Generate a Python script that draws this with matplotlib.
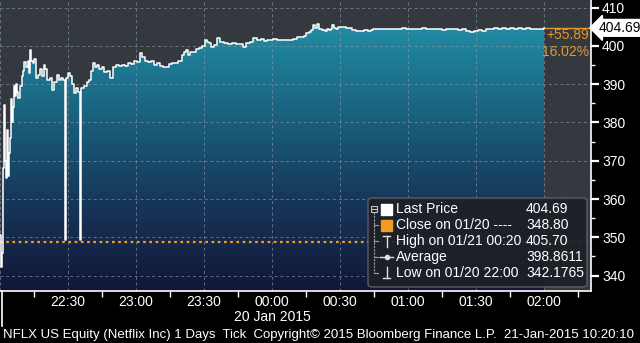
import matplotlib
matplotlib.use("Agg")
import matplotlib.pyplot as plt
import numpy as np
from matplotlib.transforms import blended_transform_factory
from matplotlib.patches import FancyBboxPatch, Rectangle
from matplotlib.lines import Line2D
from matplotlib.colors import LinearSegmentedColormap

plt.rcParams['font.family'] = ['Liberation Sans', 'DejaVu Sans']

# ---- data: minutes after 22:00 (20 Jan 2015) and last price ----
minutes = [0.0, 0.4, 0.9, 1.3, 1.8, 2.2, 2.6, 3.1, 3.5, 4.0, 4.4, 4.9, 5.3, 5.7, 6.2,
           6.6, 7.1, 7.5, 7.9, 8.8, 9.7, 10.2, 10.6, 11.5, 12.4, 12.8, 13.2, 13.7, 14.6,
           15.0, 15.9, 16.8, 17.6, 18.5, 19.4, 19.9, 20.7, 22.1, 22.9, 23.8, 25.1, 26.0,
           26.9, 27.8, 28.7, 29.1, 30.0, 30.9, 31.8, 32.6, 33.5, 34.4, 35.3, 35.7, 37.1,
           38.4, 39.3, 40.1, 41.0, 41.9, 42.8, 43.7, 45.0, 45.9, 47.2, 48.5, 49.9, 51.2,
           52.5, 53.8, 55.1, 56.5, 57.8, 59.1, 60.4, 61.8, 62.6, 64.0, 65.3, 66.6, 67.9,
           69.3, 70.6, 71.9, 73.2, 74.6, 75.9, 77.2, 78.5, 80.3, 81.2, 82.1, 82.9, 83.8,
           85.1, 86.5, 87.8, 89.1, 90.4, 91.3, 92.2, 93.1, 94.4, 95.7, 97.1, 98.8, 100.6,
           102.4, 104.1, 105.9, 107.2, 108.5, 110.3, 111.6, 113.4, 115.1, 116.5, 117.8,
           119.1, 120.4, 122.2, 124.0, 125.7, 127.5, 129.3, 131.0, 132.8, 134.1, 135.0,
           136.3, 137.2, 138.1, 139.0, 140.0, 140.7, 142.1, 143.4, 144.3, 145.1, 146.0,
           146.5, 147.4, 148.2, 149.1, 150.9, 152.6, 154.4, 155.3, 157.1, 158.8, 160.6,
           162.4, 163.7, 164.6, 166.8, 169.0, 171.2, 173.4, 175.6, 177.4, 179.1, 180.9,
           182.6, 184.4, 186.2, 187.9, 189.7, 191.5, 193.2, 195.0, 196.8, 198.5, 200.3,
           202.1, 203.8, 205.6, 207.4, 209.1, 210.9, 212.6, 214.4, 216.2, 217.9, 219.7,
           221.5, 223.2, 225.0, 226.8, 228.5, 230.3, 232.1, 233.8, 235.6, 237.4, 240.0]
prices = [350.5, 342.2, 346.0, 368.0, 384.5, 370.0, 365.5, 378.0, 366.0, 372.0, 376.0,
          386.0, 380.0, 384.0, 389.5, 387.0, 390.0, 388.0, 386.5, 389.5, 392.0, 393.5,
          395.8, 394.5, 396.0, 393.0, 399.0, 396.0, 395.5, 396.5, 391.6, 392.5, 394.0,
          392.0, 395.0, 394.0, 391.0, 391.5, 388.5, 390.5, 392.5, 391.0, 391.5, 391.0,
          349.3, 391.5, 392.8, 392.0, 390.0, 387.6, 389.0, 388.0, 349.3, 389.0, 389.5,
          390.5, 391.0, 393.5, 395.4, 394.5, 395.0, 394.0, 394.5, 393.2, 393.5, 391.5,
          394.4, 395.0, 394.6, 395.0, 394.8, 395.5, 395.2, 396.0, 395.8, 398.0, 397.0,
          396.0, 395.8, 396.0, 395.0, 395.4, 394.8, 394.4, 394.4, 395.3, 395.6, 395.5,
          396.0, 397.5, 398.5, 398.9, 397.5, 398.3, 398.5, 399.2, 399.4, 400.0, 401.5,
          401.0, 400.7, 399.8, 400.2, 402.0, 401.0, 400.7, 400.5, 400.7, 400.4, 400.6,
          399.8, 400.7, 401.0, 402.0, 401.6, 401.8, 401.3, 401.6, 401.4, 401.8, 401.5,
          401.4, 401.6, 401.5, 401.9, 402.2, 402.3, 402.5, 403.3, 403.5, 404.2, 405.4,
          404.6, 405.7, 404.3, 404.1, 403.9, 404.5, 404.2, 404.4, 405.5, 404.6, 404.4,
          404.8, 404.8, 404.7, 404.6, 404.0, 403.9, 403.9, 404.0, 403.8, 404.1, 404.4,
          404.4, 404.3, 404.5, 404.3, 404.4, 404.6, 404.4, 404.5, 404.3, 404.4, 404.6,
          404.4, 404.5, 404.4, 404.3, 404.2, 404.4, 404.3, 404.4, 404.2, 404.3, 403.8,
          403.7, 403.9, 404.0, 403.9, 404.3, 404.4, 404.6, 404.4, 404.7, 404.5, 404.6,
          404.4, 404.6, 404.5, 404.6, 404.4, 404.5, 404.5, 404.69]

x_tick_pos = [30, 60, 90, 120, 150, 180, 210, 240]
x_tick_labels = ["22:30", "23:00", "23:30", "00:00", "00:30", "01:00", "01:30", "02:00"]
y_ticks = [340, 350, 360, 370, 380, 390, 400, 410]

last_price = 404.69
prev_close = 348.80
change_txt = "+55.89"
pct_txt = "16.02%"

legend_rows = [("Last Price", "404.69"),
               ("Close on 01/20 ----", "348.80"),
               ("High on 01/21 00:20", "405.70"),
               ("Average", "398.8611"),
               ("Low on 01/20 22:00", "342.1765")]

W, H = 640, 343
FS = 10
fig = plt.figure(figsize=(W / 100, H / 100), dpi=100, facecolor='black')
PB = 291
PR = 591
ax = fig.add_axes([0, 1 - PB / H, PR / W, PB / H])
ax.set_facecolor('#343940')
ax.set_xlim(0, 260.7)
ax.set_ylim(335.98, 411.96)

x = np.array(minutes)
y = np.array(prices)

# gradient fill beneath the price line
grad = LinearSegmentedColormap.from_list('g', ['#131638', '#173a5c', '#1b6a86', '#2498ae'])
im = ax.imshow(np.linspace(0, 1, 256).reshape(-1, 1), cmap=grad, origin='lower',
               extent=[0, 260.7, 335.98, 411.96], aspect='auto', zorder=1)
poly = ax.fill_between(x, y, 300, step='post', facecolor='none', edgecolor='none', zorder=1)
im.set_clip_path(poly.get_paths()[0], transform=ax.transData)

# grid
for v in y_ticks:
    ax.axhline(v, color='#8a96a6', lw=0.7, ls=(0, (3, 3)), alpha=0.65, zorder=2)
for v in [0] + x_tick_pos:
    ax.axvline(v, color='#8a96a6', lw=0.7, ls=(0, (3, 3)), alpha=0.65, zorder=2)

ax.plot(x, y, drawstyle='steps-post', color='white', lw=1.1, zorder=4)

# previous close dotted line
ax.axhline(prev_close, color='#f39c24', lw=1.6, ls=(0, (1.2, 1.6)), zorder=3)
# last price line to the axis
ax.plot([x[-1], 260.7], [last_price, last_price], color='#e8962a', lw=1.0, zorder=3)

bt = blended_transform_factory(ax.transAxes, ax.transData)
ax.text(0.997, 402.8, change_txt, transform=bt, ha='right', va='center',
        color='#e8962a', fontsize=FS)
ax.text(0.997, 398.4, pct_txt, transform=bt, ha='right', va='center',
        color='#e8962a', fontsize=FS)
ax.annotate(f"{last_price:.2f}", xy=(1.0, last_price), xycoords=bt,
            xytext=(5.5, 0), textcoords='offset points', ha='left', va='center',
            fontsize=FS, color='black',
            bbox=dict(boxstyle='larrow,pad=0.1', fc='white', ec='white'),
            annotation_clip=False)

# axes styling
for s in ['top', 'left']:
    ax.spines[s].set_visible(False)
ax.spines['right'].set_color('white')
ax.spines['bottom'].set_color('white')
ax.spines['right'].set_linewidth(1.2)
ax.spines['bottom'].set_linewidth(1.2)
ax.yaxis.tick_right()
ax.set_yticks(y_ticks)
ax.set_yticklabels([str(v) for v in y_ticks])
ax.set_yticks([345, 355, 365, 375, 385, 395, 405], minor=True)
ax.tick_params(axis='y', which='major', colors='white', length=6, width=1.6,
               labelsize=FS, pad=2)
ax.tick_params(axis='y', which='minor', colors='white', length=3, width=1)
ax.set_xticks([15, 45, 75, 105, 135, 165, 195, 225, 255])
ax.set_xticklabels([])
ax.set_xticks(x_tick_pos, x_tick_labels, minor=True)
ax.tick_params(axis='x', which='major', colors='white', length=4, width=1)
ax.tick_params(axis='x', which='minor', length=0, labelcolor='white',
               labelsize=FS, pad=3)

# left day separator
fig.add_artist(Line2D([1.5 / W, 1.5 / W], [1 - PB / H, 1 - 326 / H], color='white', lw=1.2))

fig.text(272 / W, 1 - 317 / H, "20 Jan 2015", color='white', fontsize=FS,
         ha='center', va='center')
fig.text(3 / W, 1 - 335 / H,
         "NFLX US Equity (Netflix Inc) 1 Days  Tick  Copyright\u00a9 2015 Bloomberg Finance L.P.  21-Jan-2015 10:20:10",
         color='white', fontsize=9.5, ha='left', va='center')

# legend box (pixel layout)
def fx(px):
    return px / W

def fy(py):
    return 1 - py / H

box = FancyBboxPatch((fx(368), fy(287)), fx(587) - fx(368), fy(198) - fy(287),
                     boxstyle='round,pad=0,rounding_size=0.008', transform=fig.transFigure,
                     fc='#1d2027', ec='#5c616a', lw=1.0, alpha=0.93, zorder=10)
fig.add_artist(box)
rows_y = [209, 225, 241, 257, 273]
# tree
fig.add_artist(Rectangle((fx(371), fy(211.5)), fx(6), 6 / H, transform=fig.transFigure,
                         fill=False, ec='#c0c4c8', lw=0.8, zorder=11))
fig.add_artist(Line2D([fx(372.3), fx(375.7)], [fy(208.5)] * 2, color='#c0c4c8', lw=0.8, zorder=11))
fig.add_artist(Line2D([fx(374)] * 2, [fy(212), fy(273)], color='#9ca0a6', lw=0.8,
                      ls=(0, (2, 1)), zorder=11))
for ry in rows_y[1:]:
    fig.add_artist(Line2D([fx(374), fx(378)], [fy(ry)] * 2, color='#9ca0a6', lw=0.8, zorder=11))
# symbols
fig.add_artist(Rectangle((fx(381), fy(214.5)), fx(11), 11 / H, transform=fig.transFigure,
                         fc='white', ec='white', zorder=11))
fig.add_artist(Rectangle((fx(381), fy(230.5)), fx(11), 11 / H, transform=fig.transFigure,
                         fc='#f39c24', ec='#f39c24', zorder=11))
sc = '#e0e0e0'
fig.add_artist(Line2D([fx(386.5)] * 2, [fy(236), fy(247)], color=sc, lw=1.0, zorder=11))
fig.add_artist(Line2D([fx(383), fx(390)], [fy(236)] * 2, color=sc, lw=1.0, zorder=11))
fig.add_artist(Line2D([fx(380), fx(393)], [fy(257)] * 2, color=sc, lw=1.0, zorder=11))
fig.add_artist(Line2D([fx(386.5)], [fy(257)], marker='o', ms=3, color=sc, zorder=12))
fig.add_artist(Line2D([fx(386.5)] * 2, [fy(267), fy(278)], color=sc, lw=1.0, zorder=11))
fig.add_artist(Line2D([fx(383), fx(390)], [fy(278)] * 2, color=sc, lw=1.0, zorder=11))
for (lab, val), ry in zip(legend_rows, rows_y):
    fig.text(fx(396), fy(ry), lab, color='white', fontsize=FS, ha='left', va='center', zorder=12)
    fig.text(fx(526), fy(ry), val, color='white', fontsize=FS, ha='left', va='center', zorder=12)

fig.savefig('out.png', dpi=100, facecolor='black')
